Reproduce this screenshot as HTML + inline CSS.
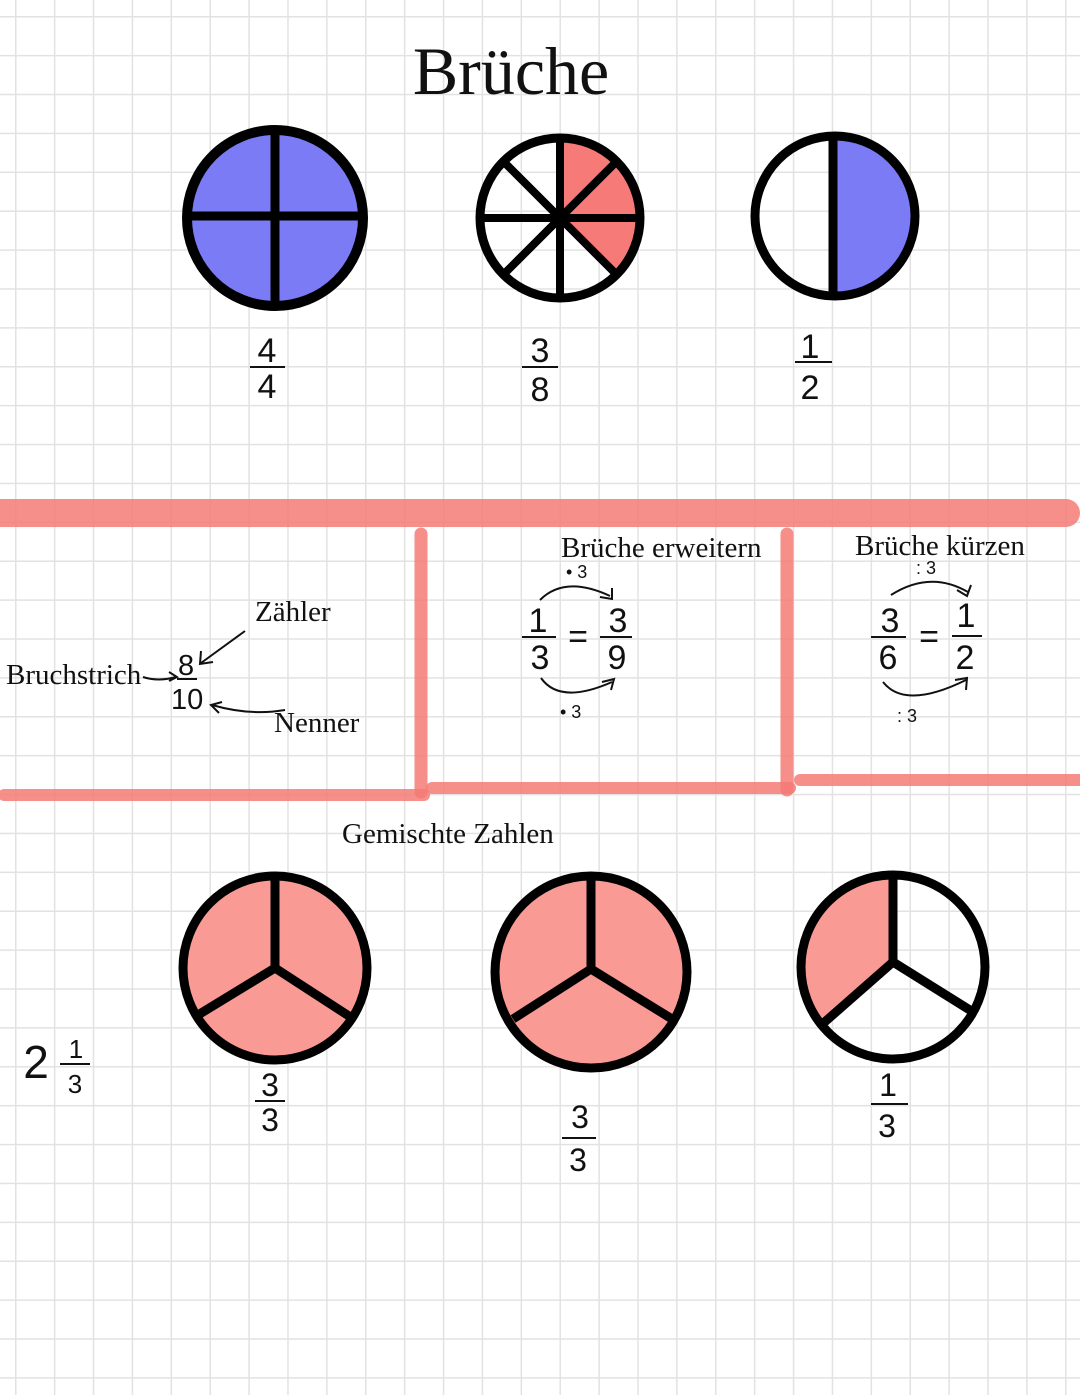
<!DOCTYPE html>
<html><head><meta charset="utf-8"><style>
body{margin:0;width:1080px;height:1395px;overflow:hidden;background:#fff;
background-image:linear-gradient(#e2e2e2 1.5px,transparent 1.5px),linear-gradient(90deg,#e2e2e2 1.5px,transparent 1.5px);
background-size:38.9px 38.9px;background-position:15px 16px;}
svg{position:absolute;left:0;top:0}
.s{font-family:"Liberation Serif",serif;fill:#111}
.h{font-family:"Liberation Sans",sans-serif;fill:#111}
</style></head><body>
<svg width="1080" height="1395" viewBox="0 0 1080 1395">
<text class="s" x="511" y="94" font-size="68" text-anchor="middle">Brüche</text>
<!-- circle 1 -->
<circle cx="275" cy="218" r="88" fill="#7b7bf5" stroke="#000" stroke-width="10"/>
<line x1="275" y1="130" x2="275" y2="306" stroke="#000" stroke-width="9"/>
<line x1="187" y1="216" x2="363" y2="216" stroke="#000" stroke-width="9"/>
<!-- circle 2 -->
<path d="M560 218 L560 138 A80 80 0 0 1 616.6 274.6 Z" fill="#f57a78"/>
<circle cx="560" cy="218" r="80" fill="none" stroke="#000" stroke-width="9"/>
<g stroke="#000" stroke-width="8">
<line x1="560" y1="138" x2="560" y2="298"/><line x1="480" y1="218" x2="640" y2="218"/>
<line x1="503.4" y1="161.4" x2="616.6" y2="274.6"/><line x1="616.6" y1="161.4" x2="503.4" y2="274.6"/></g>
<!-- circle 3 -->
<path d="M833 136 A80 80 0 0 1 833 296 Z" fill="#7b7bf5"/>
<circle cx="835" cy="216" r="80" fill="none" stroke="#000" stroke-width="9"/>
<line x1="833" y1="136" x2="833" y2="296" stroke="#000" stroke-width="9"/>
<!-- fractions top -->
<g class="h" font-size="34" text-anchor="middle">
<text x="267" y="362">4</text><text x="267" y="398">4</text>
<text x="540" y="362">3</text><text x="540" y="401">8</text>
<text x="810" y="358">1</text><text x="810" y="399">2</text>
</g>
<g stroke="#111" stroke-width="2">
<line x1="250" y1="367" x2="285" y2="367"/><line x1="522" y1="367" x2="558" y2="367"/><line x1="795" y1="362" x2="832" y2="362"/></g>
<!-- red bands -->
<g stroke="#f47a76" stroke-opacity=".85" stroke-linecap="round" fill="none">
<line x1="0" y1="513" x2="1066" y2="513" stroke-width="28"/>
<line x1="421" y1="534" x2="421" y2="792" stroke-width="13"/>
<line x1="4" y1="795" x2="424" y2="795" stroke-width="12"/>
<line x1="432" y1="788" x2="790" y2="788" stroke-width="12"/>
<line x1="787" y1="534" x2="787" y2="790" stroke-width="13"/>
<line x1="800" y1="780" x2="1080" y2="780" stroke-width="12"/>
</g>
<!-- Bruchstrich -->
<g class="s" font-size="29">
<text x="6" y="684">Bruchstrich</text><text x="255" y="621">Zähler</text><text x="274" y="732">Nenner</text>
<text x="561" y="557">Brüche erweitern</text><text x="855" y="555">Brüche kürzen</text>
<text x="342" y="843">Gemischte Zahlen</text></g>
<g class="h" font-size="29"><text x="178" y="675">8</text><text x="171" y="709">10</text></g>
<g stroke="#111" stroke-width="2" fill="none">
<line x1="177" y1="679" x2="197" y2="679"/>
<path d="M143 677 Q158 682 176 677 M169 672 L177 677 L169 681"/>
<path d="M245 631 L201 663 M201 651 L200 664 L213 662"/>
<path d="M285 710 Q250 716 212 705 M222 702 L211 705 L219 713"/>
</g>
<!-- erweitern -->
<g class="h" font-size="34" text-anchor="middle">
<text x="538" y="632">1</text><text x="540" y="669">3</text><text x="618" y="632">3</text><text x="617" y="669">9</text>
<text x="578" y="648">=</text>
<text x="890" y="632">3</text><text x="888" y="669">6</text><text x="966" y="627">1</text><text x="965" y="669">2</text>
<text x="929" y="648">=</text></g>
<g class="h" font-size="18"><text x="566" y="578">• 3</text><text x="560" y="718">• 3</text><text x="916" y="574">: 3</text><text x="897" y="722">: 3</text></g>
<g stroke="#111" stroke-width="2" fill="none">
<line x1="522" y1="637" x2="556" y2="637"/><line x1="600" y1="637" x2="632" y2="637"/>
<line x1="871" y1="637" x2="906" y2="637"/><line x1="952" y1="636" x2="982" y2="636"/>
<path d="M540 600 Q565 575 610 596 M600 597 L612 599 L612 588"/>
<path d="M541 678 Q560 705 612 682 M602 682 L614 679 L611 690"/>
<path d="M891 595 Q930 570 968 592 M957 590 L967 596 L971 585"/>
<path d="M883 682 Q905 710 966 680 M955 680 L967 678 L966 690"/>
</g>
<!-- bottom circles -->
<g stroke="#000" stroke-width="9">
<circle cx="275" cy="968" r="92" fill="#f99a94"/>
<line x1="275" y1="876" x2="275" y2="968"/><line x1="275" y1="968" x2="198" y2="1015"/><line x1="275" y1="968" x2="352" y2="1018"/>
<circle cx="591" cy="972" r="96" fill="#f99a94"/>
<line x1="591" y1="876" x2="591" y2="969"/><line x1="591" y1="969" x2="513" y2="1019"/><line x1="591" y1="969" x2="672" y2="1019"/>
<path d="M891 875 L891 962 L820 1027 A92 92 0 0 1 891 875 Z" fill="#f99a94" stroke="none"/>
<circle cx="893" cy="967" r="92" fill="none"/>
<line x1="893" y1="875" x2="893" y2="962"/><line x1="893" y1="962" x2="819" y2="1027"/><line x1="893" y1="962" x2="973" y2="1012"/>
</g>
<g class="h" font-size="32" text-anchor="middle">
<text x="270" y="1096">3</text><text x="270" y="1131">3</text>
<text x="580" y="1128">3</text><text x="578" y="1171">3</text>
<text x="888" y="1096">1</text><text x="887" y="1137">3</text>
<text x="36" y="1078" font-size="46">2</text>
<text x="76" y="1058" font-size="26">1</text><text x="75" y="1093" font-size="26">3</text></g>
<g stroke="#111" stroke-width="2">
<line x1="255" y1="1101" x2="285" y2="1101"/><line x1="562" y1="1138" x2="596" y2="1138"/>
<line x1="871" y1="1104" x2="908" y2="1104"/><line x1="60" y1="1064" x2="90" y2="1064"/></g>
</svg>
</body></html>
